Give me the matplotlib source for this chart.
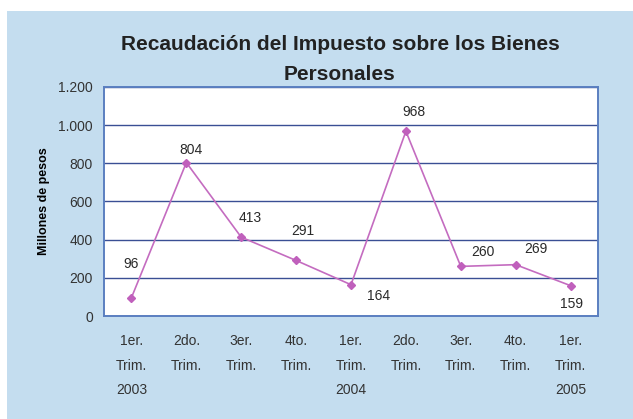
import matplotlib
matplotlib.use("Agg")
import matplotlib.pyplot as plt
from matplotlib.patches import Rectangle

# data
categorias = ["1er.\nTrim.\n2003", "2do.\nTrim.", "3er.\nTrim.", "4to.\nTrim.",
              "1er.\nTrim.\n2004", "2do.\nTrim.", "3er.\nTrim.", "4to.\nTrim.",
              "1er.\nTrim.\n2005"]
recaudacion = [96, 804, 413, 291, 164, 968, 260, 269, 159]
y_ticks = [0, 200, 400, 600, 800, 1000, 1200]
y_ticklabels = ["0", "200", "400", "600", "800", "1.000", "1.200"]

# where each value label sits relative to its point (offset in points)
offsets = [(0, 24), (3, 9), (6.5, 14), (4.5, 21.5), (20, -8),
           (6, 14), (16, 10), (14.5, 11.5), (1, -13)]

plt.rcParams['font.family'] = ['Liberation Sans', 'DejaVu Sans']

fig = plt.figure(figsize=(6.33, 4.19), dpi=100)
fig.patch.set_facecolor("white")
# light blue panel behind everything
fig.patches.append(Rectangle((7 / 633, 0), 1, 1 - 11 / 419, transform=fig.transFigure,
                             facecolor="#c4ddef", edgecolor="none", zorder=-1))

ax = fig.add_axes([104 / 633, (419 - 316) / 419, (598 - 104) / 633, (316 - 87) / 419])
ax.set_facecolor("white")

x = list(range(len(categorias)))
ax.plot(x, recaudacion, color="#c46cc0", lw=1.2, marker="D", ms=4.5,
        markerfacecolor="#c060bc", markeredgecolor="#c060bc", zorder=3)

for xi, v, off in zip(x, recaudacion, offsets):
    ax.annotate(str(v), (xi, v), xytext=off, textcoords="offset points",
                ha="center", va="center", fontsize=10, color="#2a2a2a")

ax.set_xlim(-0.5, len(categorias) - 0.5)
ax.set_ylim(0, 1200)
ax.set_yticks(y_ticks)
ax.set_yticklabels(y_ticklabels)
ax.set_xticks(x)
ax.set_xticklabels(categorias, linespacing=1.95, va="top")
ax.tick_params(length=0, labelsize=10, labelcolor="#333333")
ax.tick_params(axis="y", pad=8)
ax.tick_params(axis="x", pad=13)

ax.grid(axis="y", color="#3a4f94", lw=1.0)
ax.set_axisbelow(True)
for s in ax.spines.values():
    s.set_color("#5b7fc0")
    s.set_linewidth(1.4)

ax.set_ylabel("Millones de pesos", fontsize=9, fontweight="bold", labelpad=6)

fig.text(0.537, 0.893, "Recaudación del Impuesto sobre los Bienes", ha="center",
         va="center", fontsize=15, fontweight="bold", color="#222222")
fig.text(0.537, 0.822, "Personales", ha="center", va="center", fontsize=15,
         fontweight="bold", color="#222222")

fig.savefig("out.png", dpi=100)
